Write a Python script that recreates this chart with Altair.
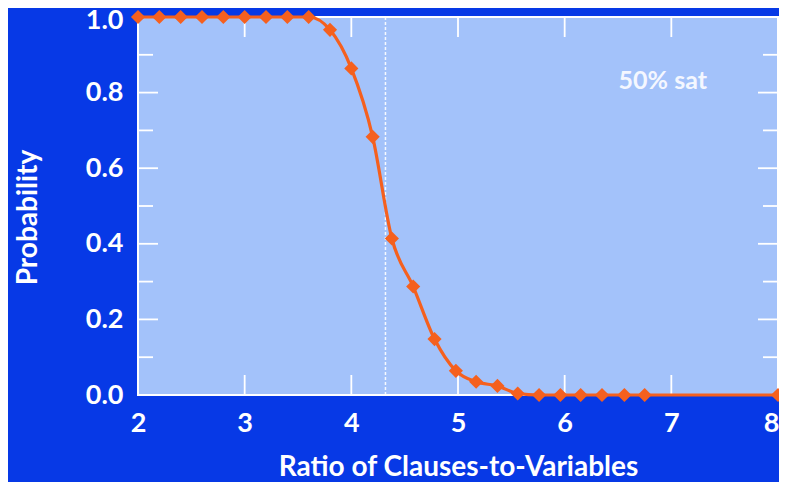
import altair as alt
import pandas as pd

# ---- data ----
ratio = [2.0, 2.2, 2.4, 2.6, 2.8, 3.0, 3.2, 3.4, 3.6, 3.8, 4.0, 4.2, 4.38, 4.58,
         4.78, 4.98, 5.17, 5.37, 5.56, 5.76, 5.96, 6.15, 6.35, 6.56, 6.75, 8.0]
prob = [1.0, 1.0, 1.0, 1.0, 1.0, 1.0, 1.0, 1.0, 1.0, 0.966, 0.864, 0.683, 0.414,
        0.287, 0.148, 0.064, 0.035, 0.024, 0.004, 0.0, 0.0, 0.0, 0.0, 0.0, 0.0, 0.0]

x_ticks = [3, 4, 5, 6, 7]
y_major = [0.2, 0.4, 0.6, 0.8]
y_minor = [0.1, 0.3, 0.5, 0.7, 0.9]
y_labels = [0.0, 0.2, 0.4, 0.6, 0.8, 1.0]
x_labels = [2, 3, 4, 5, 6, 7, 8]

threshold = [4.32]
note_text = ["50% sat"]
note_x = [6.92]
note_y = [0.83]

BG = "#0739E6"
PLOT = "#A3C2FA"
ORANGE = "#F5601E"
FONT = "Lato"

df = pd.DataFrame({"ratio": ratio, "prob": prob})
xs = alt.Scale(domain=[2, 8], nice=False)
ys = alt.Scale(domain=[0, 1], nice=False)

x_axis = alt.Axis(
    values=x_labels, format="d", title="Ratio of Clauses-to-Variables",
    titleX=320, titleY=80, titleBaseline="alphabetic", titleAlign="center",
    labelPadding=36, labelBaseline="alphabetic",
    labelOffset=alt.ExprRef("datum.value == 8 ? -7 : 0"))
y_axis = alt.Axis(
    values=y_labels, format=".1f", title="Probability",
    titleX=-102, titleY=200, titleBaseline="alphabetic", titleAlign="center",
    labelPadding=15,
    labelOffset=alt.ExprRef("datum.value == 1 ? 3 : 0"))


def X(field):
    return alt.X(field, scale=xs, axis=x_axis, title="Ratio of Clauses-to-Variables")


def Y(field):
    return alt.Y(field, scale=ys, axis=y_axis, title="Probability")


line = alt.Chart(df).mark_line(color=ORANGE, strokeWidth=3.2, interpolate="monotone").encode(
    x=X("ratio:Q"), y=Y("prob:Q"))
pts = alt.Chart(df).mark_point(shape="diamond", filled=True, color=ORANGE, size=200, opacity=1).encode(
    x=X("ratio:Q"), y=Y("prob:Q"))

tick_style = dict(color="white", strokeWidth=1.8)
ymaj = pd.DataFrame({"v": y_major})
ymin = pd.DataFrame({"v": y_minor})
xt = pd.DataFrame({"v": x_ticks})


def yrule(d, x0, x1):
    return alt.Chart(d).mark_rule(**tick_style).encode(
        y=Y("v:Q"), x=alt.value(x0), x2=alt.value(x1))


def xrule(d, y0, y1):
    return alt.Chart(d).mark_rule(**tick_style).encode(
        x=X("v:Q"), y=alt.value(y0), y2=alt.value(y1))


ticks = (yrule(ymaj, 0, 20) + yrule(ymin, 0, 15) + yrule(ymaj, 640, 620) + yrule(ymin, 640, 625)
         + xrule(xt, 0, 20) + xrule(xt, 378, 358))

dash = alt.Chart(pd.DataFrame({"t": threshold})).mark_rule(
    color="white", strokeWidth=1.5, strokeDash=[3, 2], opacity=0.9).encode(
    x=X("t:Q"), y=alt.value(0), y2=alt.value(378))

note = alt.Chart(pd.DataFrame({"t": note_text, "x": note_x, "y": note_y})).mark_text(
    color="#F4F7FF", font=FONT, fontWeight="bold", fontSize=25, align="center", baseline="middle").encode(
    x=X("x:Q"), y=Y("y:Q"), text="t:N")

chart = alt.layer(ticks, dash, line, pts, note).properties(
    width=640, height=378,
    autosize=alt.AutoSizeParams(type="none"),
    padding={"left": 130, "top": 9, "right": 1, "bottom": 87},
    background=BG,
).configure_view(
    fill=PLOT, stroke="white", strokeWidth=2
).configure_axis(
    grid=False, domain=False, ticks=False,
    labelColor="white", labelFont=FONT, labelFontSize=27, labelFontWeight="bold",
    titleColor="white", titleFont=FONT, titleFontSize=28, titleFontWeight="bold",
    labelFlush=False, labelOverlap=False,
)

chart.save("out.html", embed_options={"renderer": "svg", "actions": False})
